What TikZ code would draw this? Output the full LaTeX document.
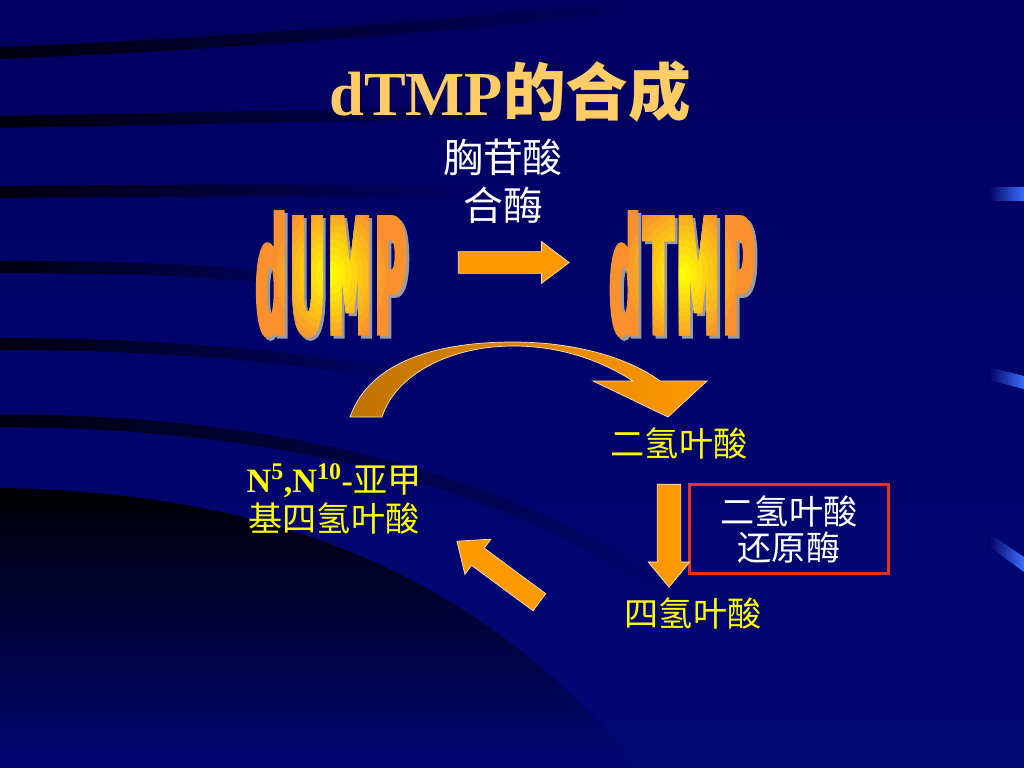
\documentclass[tikz,border=0pt]{standalone}
\usepackage{fontspec}
\usetikzlibrary{shapes.arrows,fadings}
\setmainfont{Liberation Serif}
\newfontfamily\cjk{Noto Sans CJK SC}
\newfontfamily\wordart{DejaVu Sans}[FakeStretch=0.27,FakeBold=2,LetterSpace=2]
\newcommand{\wordsize}{\wordart\bfseries\fontsize{113}{113}\selectfont}
\tikzfading[name=darkfade,top color=transparent!0,middle color=transparent!35,bottom color=transparent!100]

\begin{document}
\begin{tikzpicture}[x=0.7031pt,y=-0.7031pt,
  wordart/.style={inner sep=0pt,font=\wordsize},
  wordshadow/.style={wordart,text=shadowgray},
  blockarrow/.style={single arrow,single arrow head indent=0pt,inner xsep=0pt,
    fill=arroworange,draw=arrowrim,line width=0.5pt},
  stripe/.style={line width=8.4pt,black,opacity=0.85,path fading=east},
  yellowlabel/.style={text=labelyellow,font=\cjk\fontsize{24}{27.4}\selectfont,align=center},
  enzymelabel/.style={text=white,font=\cjk\fontsize{28}{33.7}\selectfont,align=center},
  enzymebox/.style={draw=boxred,line width=2.1pt,minimum width=140pt,minimum height=62pt,
    text=white,font=\cjk\fontsize{24}{25.3}\selectfont,align=center}]
\definecolor{bgtop}{RGB}{0,0,96}
\definecolor{bgbottom}{RGB}{0,8,118}
\definecolor{barblue}{RGB}{60,110,255}
\definecolor{titleorange}{RGB}{255,204,102}
\definecolor{labelyellow}{RGB}{255,255,0}
\definecolor{arroworange}{RGB}{255,153,0}
\definecolor{curvedark}{RGB}{190,115,0}
\definecolor{arrowrim}{RGB}{255,228,190}
\definecolor{boxred}{RGB}{236,48,28}
\definecolor{glowyellow}{RGB}{255,255,0}
\definecolor{wordorange}{RGB}{250,145,45}
\definecolor{shadowgray}{RGB}{155,155,165}
\useasboundingbox (0,0) rectangle (1024,768);
% background
\shade[top color=bgtop,bottom color=bgbottom] (0,0) rectangle (1024,768);
\fill[black,opacity=0.95,path fading=darkfade] (0,488) .. controls (250,492) and (470,560) .. (640,768) -- (0,768) -- cycle;
\draw[stripe] (0,53) .. controls (200,45) and (400,30) .. (620,8);
\draw[stripe] (0,122) .. controls (200,118) and (350,115) .. (560,112);
\draw[stripe] (0,192) .. controls (200,190) and (350,190) .. (470,192);
\draw[stripe] (0,267) .. controls (150,267) and (250,272) .. (330,285);
\draw[stripe] (0,344) .. controls (150,344) and (300,355) .. (420,380);
\draw[stripe,line width=9pt] (0,421) .. controls (250,420) and (500,470) .. (680,600);
\shade[left color=bgtop,right color=barblue] (988,187) -- (1024,187) -- (1024,200) -- (988,200) -- cycle;
\shade[left color=bgtop,right color=barblue] (988,367) -- (1024,376) -- (1024,389) -- (988,380) -- cycle;
\shade[left color=bgtop,right color=barblue] (988,533) -- (1024,557) -- (1024,572) -- (988,546) -- cycle;
% title and enzyme
\node[text=titleorange,font=\bfseries\fontsize{44}{48}\selectfont] (title) at (510,92) {dTMP{\cjk 的合成}};
\node[enzymelabel] (synthase) at (503,181) {胸苷酸\\合酶};
% word art
\node[wordshadow] (dump shadow) at (334,277) {dUMP};
\node[wordart,text=wordorange] (dump) at (331,274) {dUMP};
\foreach \k [evaluate=\k as \mix using int(\k*10)] in {1,...,10} {
  \begin{scope}
    \clip (dump.center) ellipse [x radius={60-5.6*\k},y radius={78-7.2*\k}];
    \node[wordart,text=glowyellow!\mix!wordorange] (dump glow \k) at (dump.center) {dUMP};
  \end{scope}
}
\node[wordshadow] (dtmp shadow) at (685,277) {dTMP};
\node[wordart,text=wordorange] (dtmp) at (682,274) {dTMP};
\foreach \k [evaluate=\k as \mix using int(\k*10)] in {1,...,10} {
  \begin{scope}
    \clip (dtmp.center) ellipse [x radius={60-5.6*\k},y radius={78-7.2*\k}];
    \node[wordart,text=glowyellow!\mix!wordorange] (dtmp glow \k) at (dtmp.center) {dTMP};
  \end{scope}
}
\node[blockarrow,minimum height=78pt,inner ysep=7.4pt,single arrow head extend=7pt,
  single arrow tip angle=74] (synth arrow) at (506.5,262.5) {};
% folate cycle
\shadedraw[left color=curvedark,right color=arroworange,draw=arrowrim,line width=0.5pt]
  (350,417) .. controls (370,360) and (440,342) .. (513,342)
  .. controls (580,342) and (632,360) .. (660,381)
  -- (707,381) -- (668,417) -- (593,381) -- (633,381)
  .. controls (600,360) and (560,346) .. (513,346)
  .. controls (450,346) and (395,375) .. (382,417) -- cycle;
\node[yellowlabel] (dhf) at (679,443) {二氢叶酸};
\node[yellowlabel] (thf) at (693,613) {四氢叶酸};
\node[yellowlabel] (methylene) at (334,499) {{\rmfamily\bfseries N\textsuperscript{5},N\textsuperscript{10}-}亚甲\\基四氢叶酸};
\node[enzymebox] (reductase) at (789,529) {二氢叶酸\\还原酶};
\node[blockarrow,rotate=-90,minimum height=72.4pt,inner ysep=8.1pt,single arrow head extend=6.3pt,
  single arrow tip angle=79] (reduce arrow) at (669,528.5) {};
\node[blockarrow,rotate=143.5,minimum height=72.1pt,inner ysep=7.25pt,single arrow head extend=7.9pt,
  single arrow tip angle=80] (return arrow) at (503.25,575.5) {};
\end{tikzpicture}
\end{document}
